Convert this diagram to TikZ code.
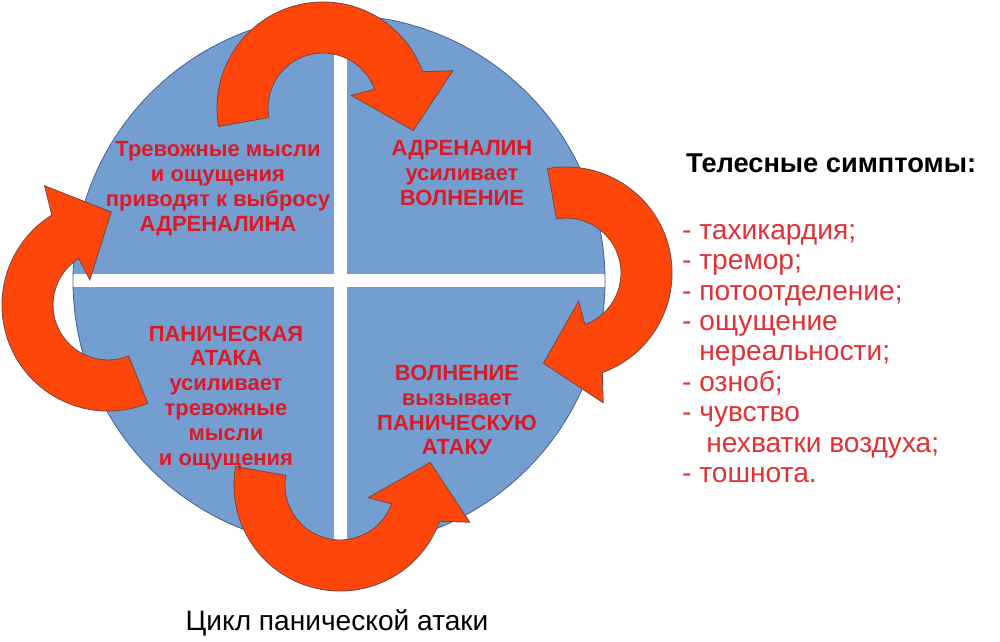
\documentclass[tikz,border=0pt]{standalone}
\usepackage{fontspec}
\setmainfont{Liberation Sans}
\definecolor{discblue}{RGB}{116,158,207}
\definecolor{discedge}{RGB}{72,100,150}
\definecolor{arrowred}{RGB}{255,70,10}
\definecolor{arrowedge}{RGB}{125,70,65}
\definecolor{textred}{RGB}{218,26,38}
\definecolor{listred}{RGB}{226,48,52}
\begin{document}
\begin{tikzpicture}[x=0.2mm, y=0.2mm,
  bentarrow/.style={fill=arrowred, draw=arrowedge, line width=0.5pt},
  cycletext/.style={text=textred, align=center, font=\bfseries\fontsize{12.5}{14.2}\selectfont}]
\useasboundingbox (0,0) rectangle (1000,641);
% disc with the white cross
\fill[discblue] (339,360) circle [radius=266];
\begin{scope}
\clip (339,360) circle [radius=266];
\fill[white] (334,0) rectangle (347,641);
\fill[white] (0,354) rectangle (1000,367);
\end{scope}
\draw[discedge, line width=0.5pt] (339,360) circle [radius=266];
% the four bent arrows: centre x / centre y / tail angle / head angle / sense
\foreach \cx/\cy/\t/\h/\s in {323/533/190/20/1, 566/368/100/-70/1, 340/156/170/340/-1, 108/336/292/122/1}
  \draw[bentarrow, shift={(\cx,\cy)}] (\t:106) arc [start angle=\t, end angle=\h, radius=106]
    -- ({\h-4*\s}:135) -- ({\h-34*\s}:93) -- ({\h+4*\s}:31) -- (\h:55)
    arc [start angle=\h, end angle=\t, radius=55] -- cycle;
% texts in the quarters
\node[cycletext] (thoughts) at (218,452) {Тревожные мысли\\и ощущения\\приводят к выбросу\\АДРЕНАЛИНА};
\node[cycletext] (adrenaline) at (462,468) {АДРЕНАЛИН\\усиливает\\ВОЛНЕНИЕ};
\node[cycletext] (attack) at (226,243) {ПАНИЧЕСКАЯ\\АТАКА\\усиливает\\тревожные\\мысли\\и ощущения};
\node[cycletext] (excitement) at (457,231) {ВОЛНЕНИЕ\\вызывает\\ПАНИЧЕСКУЮ\\АТАКУ};
% symptoms list
\node[anchor=west, font=\bfseries\fontsize{15.5}{18}\selectfont] (symptoms) at (680,478) {Телесные симптомы:};
\node[anchor=north west, align=left, text=listred, font=\fontsize{16}{17.3}\selectfont] (list) at (676,423)
  {- тахикардия;\\- тремор;\\- потоотделение;\\- ощущение\\\hspace*{0.61em}нереальности;\\- озноб;\\- чувство\\\hspace*{0.86em}нехватки воздуха;\\- тошнота.};
\node[anchor=base, font=\fontsize{16}{19}\selectfont] (caption) at (337,11) {Цикл панической атаки};
\end{tikzpicture}
\end{document}
